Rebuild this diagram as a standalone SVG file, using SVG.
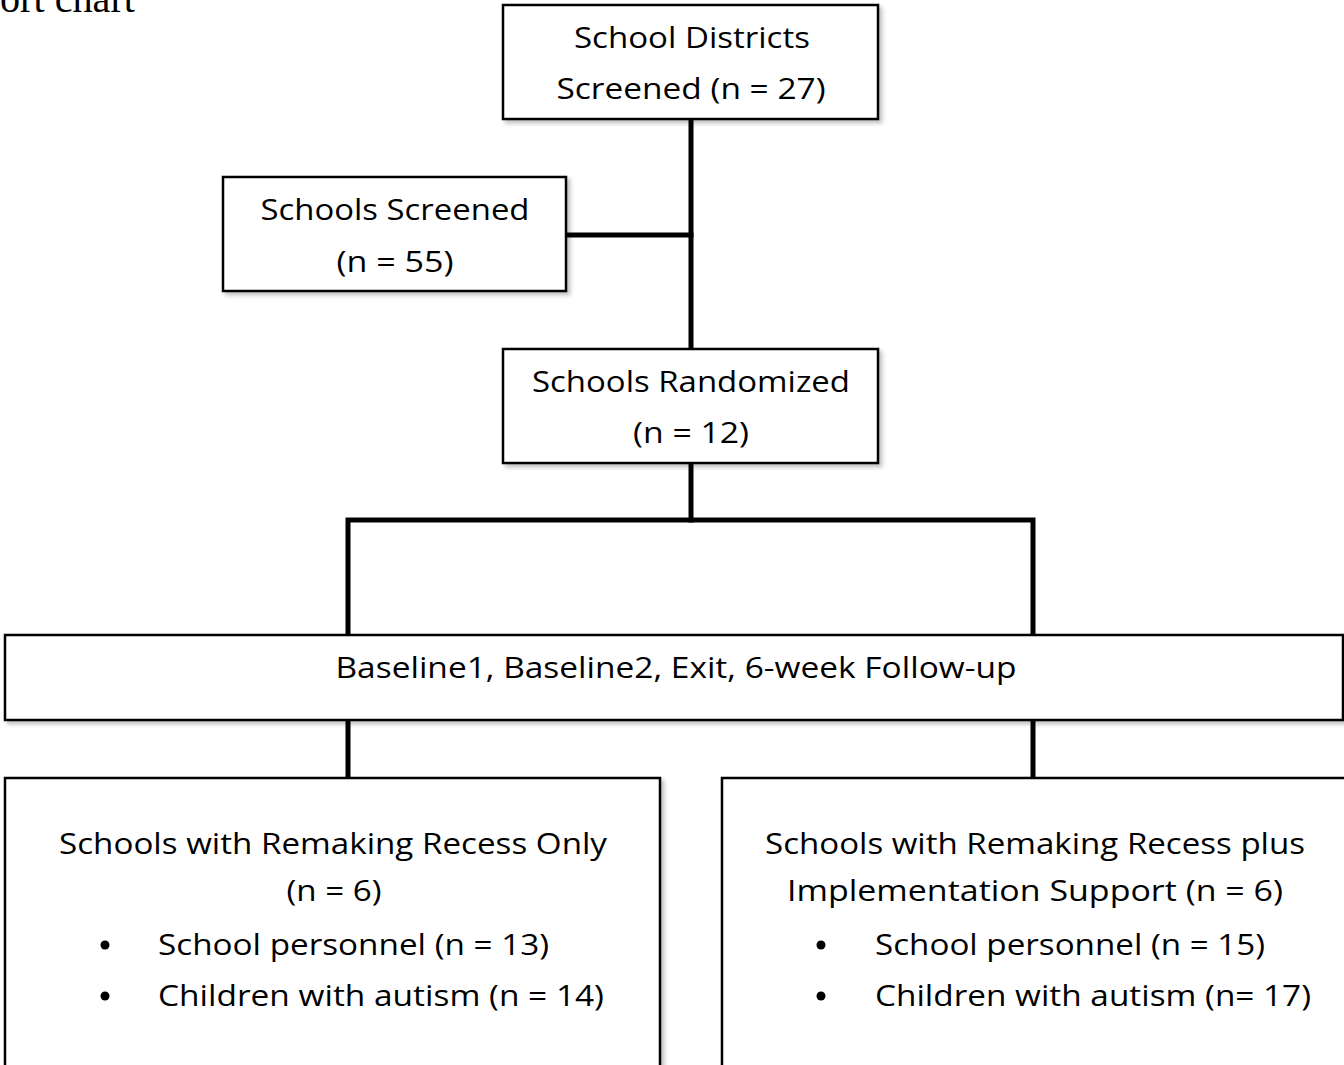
<svg xmlns="http://www.w3.org/2000/svg" width="1344" height="1065" viewBox="0 0 1344 1065">
<defs>
<filter id="sh" x="-5%" y="-5%" width="115%" height="120%">
<feDropShadow dx="3" dy="3" stdDeviation="2" flood-color="#000" flood-opacity="0.25"/>
</filter>
<style>
.box{fill:#fff;stroke:#000;stroke-width:2.5;filter:url(#sh)}
.t{font-family:"Open Sans",Lato,"Liberation Sans",sans-serif;font-size:29px;fill:#000}
.c{text-anchor:middle}
.ln{stroke:#000;stroke-width:5;fill:none;stroke-linecap:square}
</style>
</defs>
<rect width="1344" height="1065" fill="#fff"/>
<text x="0" y="12" font-family="'Liberation Serif',serif" font-size="40" textLength="135" lengthAdjust="spacingAndGlyphs">ort chart</text>
<g id="connectors">
<path class="ln" d="M691 120 V348"/>
<path class="ln" d="M566 235 H691"/>
<path class="ln" d="M691 463 V520"/>
<path class="ln" d="M348 635 V520 H1033 V635"/>
<path class="ln" d="M348 720 V778"/>
<path class="ln" d="M1033 720 V778"/>
</g>
<g id="n1">
<rect class="box" x="503" y="5" width="375" height="114"/>
<text class="t c" x="692" y="48" textLength="236" lengthAdjust="spacingAndGlyphs">School Districts</text>
<text class="t c" x="691" y="99" textLength="269" lengthAdjust="spacingAndGlyphs">Screened (n = 27)</text>
</g>
<g id="n2">
<rect class="box" x="223" y="177" width="343" height="114"/>
<text class="t c" x="395" y="220" textLength="269" lengthAdjust="spacingAndGlyphs">Schools Screened</text>
<text class="t c" x="395" y="272" textLength="117" lengthAdjust="spacingAndGlyphs">(n = 55)</text>
</g>
<g id="n3">
<rect class="box" x="503" y="349" width="375" height="114"/>
<text class="t c" x="691" y="392" textLength="318" lengthAdjust="spacingAndGlyphs">Schools Randomized</text>
<text class="t c" x="691" y="443" textLength="116" lengthAdjust="spacingAndGlyphs">(n = 12)</text>
</g>
<g id="n4">
<rect class="box" x="5" y="635" width="1338" height="85"/>
<text class="t c" x="676" y="678" textLength="681" lengthAdjust="spacingAndGlyphs">Baseline1, Baseline2, Exit, 6-week Follow-up</text>
</g>
<g id="n5">
<rect class="box" x="5" y="778" width="655" height="300"/>
<text class="t c" x="333" y="854" textLength="548" lengthAdjust="spacingAndGlyphs">Schools with Remaking Recess Only</text>
<text class="t c" x="334" y="901" textLength="95" lengthAdjust="spacingAndGlyphs">(n = 6)</text>
<circle cx="105" cy="945" r="4.5"/>
<text class="t" x="158" y="955" textLength="391" lengthAdjust="spacingAndGlyphs">School personnel (n = 13)</text>
<circle cx="105" cy="996" r="4.5"/>
<text class="t" x="158" y="1006" textLength="446" lengthAdjust="spacingAndGlyphs">Children with autism (n = 14)</text>
</g>
<g id="n6">
<rect class="box" x="722" y="778" width="640" height="300"/>
<text class="t c" x="1035" y="854" textLength="540" lengthAdjust="spacingAndGlyphs">Schools with Remaking Recess plus</text>
<text class="t c" x="1035" y="901" textLength="496" lengthAdjust="spacingAndGlyphs">Implementation Support  (n = 6)</text>
<circle cx="821" cy="945" r="4.5"/>
<text class="t" x="875" y="955" textLength="390" lengthAdjust="spacingAndGlyphs">School personnel (n = 15)</text>
<circle cx="821" cy="996" r="4.5"/>
<text class="t" x="875" y="1006" textLength="436" lengthAdjust="spacingAndGlyphs">Children with autism (n= 17)</text>
</g>
</svg>
